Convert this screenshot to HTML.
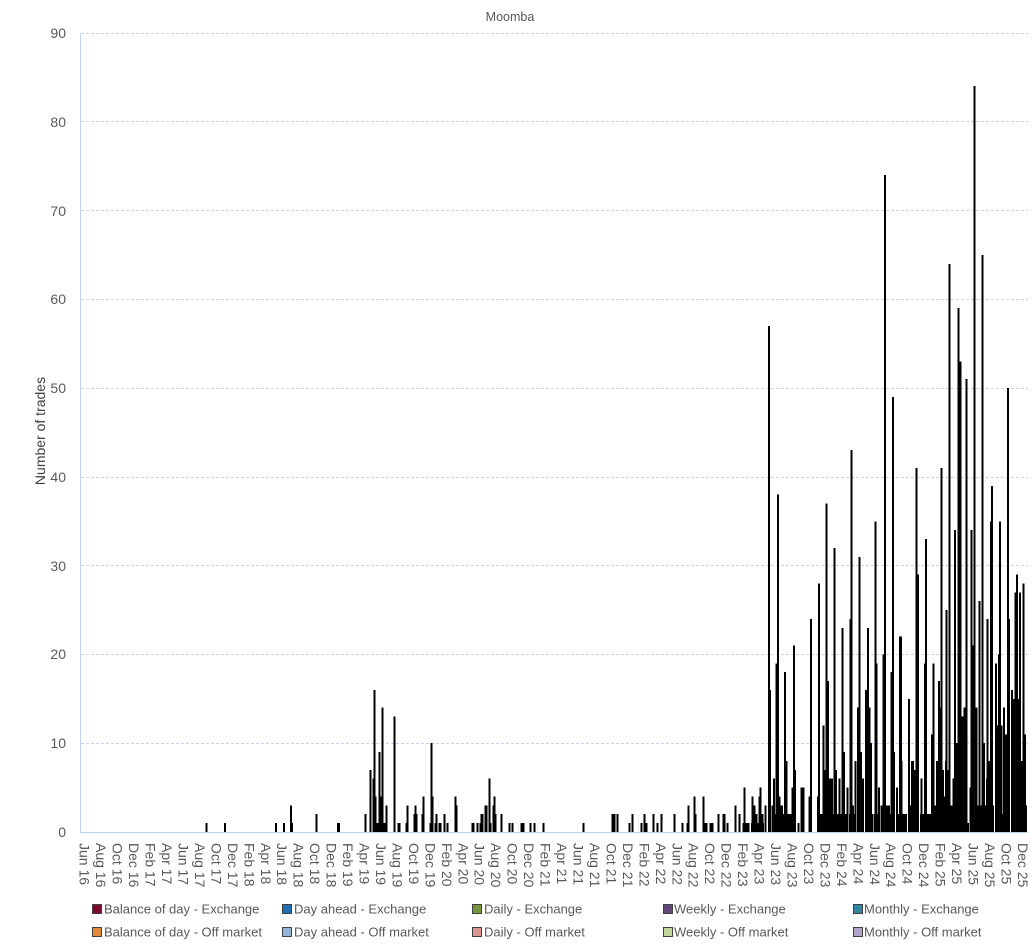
<!DOCTYPE html>
<html>
<head>
<meta charset="utf-8">
<style>
html,body{margin:0;padding:0;background:#fff;}
svg{display:block;font-family:"Liberation Sans",Arial,sans-serif;}
</style>
</head>
<body>
<svg width="1034" height="944" viewBox="0 0 1034 944" xmlns="http://www.w3.org/2000/svg">
<rect x="0" y="0" width="1034" height="944" fill="#fff"/>
<text x="510" y="21" font-size="12.5" fill="#595959" text-anchor="middle">Moomba</text>

<!-- gridlines -->
<g stroke="#C5D6EC" stroke-width="1" stroke-dasharray="3 2">
<line x1="81" y1="743.5" x2="1028" y2="743.5"/>
<line x1="81" y1="654.5" x2="1028" y2="654.5"/>
<line x1="81" y1="565.5" x2="1028" y2="565.5"/>
<line x1="81" y1="477.5" x2="1028" y2="477.5"/>
<line x1="81" y1="388.5" x2="1028" y2="388.5"/>
<line x1="81" y1="299.5" x2="1028" y2="299.5"/>
<line x1="81" y1="210.5" x2="1028" y2="210.5"/>
<line x1="81" y1="121.5" x2="1028" y2="121.5"/>
<line x1="81" y1="33.5" x2="1028" y2="33.5"/>
</g>
<line x1="80.5" y1="33" x2="80.5" y2="832" stroke="#BCD2EE" stroke-width="1"/>

<!-- y labels -->
<g font-size="14" fill="#595959" text-anchor="end">
<text x="66" y="837">0</text>
<text x="66" y="748">10</text>
<text x="66" y="659">20</text>
<text x="66" y="571">30</text>
<text x="66" y="482">40</text>
<text x="66" y="393">50</text>
<text x="66" y="304">60</text>
<text x="66" y="216">70</text>
<text x="66" y="127">80</text>
<text x="66" y="38">90</text>
</g>
<text transform="translate(45,431) rotate(-90)" font-size="14" fill="#404040" text-anchor="middle">Number of trades</text>

<!-- bars -->
<g transform="matrix(1 0 0 -8.878 0 832)" fill="#000" shape-rendering="crispEdges">
<rect x="205.7" y="0" width="2" height="1"/><rect x="224" y="0" width="2" height="1"/><rect x="275" y="0" width="2" height="1"/><rect x="283" y="0" width="2" height="1"/><rect x="290" y="0" width="2" height="3"/><rect x="292" y="0" width="1" height="1"/><rect x="315.7" y="0" width="2" height="2"/><rect x="337" y="0" width="3" height="1"/>
<rect x="364.3" y="0" width="2" height="2"/><rect x="369.3" y="0" width="2" height="7"/><rect x="372.3" y="0" width="2" height="6"/><rect x="373.3" y="0" width="2" height="16"/><rect x="374.3" y="0" width="2" height="4"/><rect x="376.3" y="0" width="2" height="1"/><rect x="378.3" y="0" width="2" height="9"/><rect x="379.3" y="0" width="2" height="4"/><rect x="381.3" y="0" width="2" height="14"/><rect x="382.3" y="0" width="3" height="1"/><rect x="385.3" y="0" width="2" height="3"/><rect x="393.7" y="0" width="2" height="13"/><rect x="397.7" y="0" width="3" height="1"/><rect x="405.7" y="0" width="2" height="1"/><rect x="406.7" y="0" width="2" height="3"/><rect x="413.7" y="0" width="2" height="2"/><rect x="414.7" y="0" width="2" height="3"/><rect x="415.7" y="0" width="2" height="2"/><rect x="421.7" y="0" width="2" height="2"/><rect x="422.7" y="0" width="2" height="4"/><rect x="429.7" y="0" width="2" height="1"/><rect x="430.7" y="0" width="2" height="10"/><rect x="431.7" y="0" width="2" height="4"/><rect x="434.7" y="0" width="2" height="1"/><rect x="435.7" y="0" width="2" height="2"/><rect x="438.7" y="0" width="3" height="1"/><rect x="443.7" y="0" width="2" height="2"/><rect x="446.7" y="0" width="2" height="1"/><rect x="454.7" y="0" width="2" height="4"/><rect x="455.7" y="0" width="2" height="3"/><rect x="471.7" y="0" width="3" height="1"/><rect x="476.7" y="0" width="2" height="1"/><rect x="479.7" y="0" width="2" height="1"/><rect x="480.7" y="0" width="2" height="2"/><rect x="481.7" y="0" width="2" height="2"/><rect x="484.7" y="0" width="2" height="3"/><rect x="485.7" y="0" width="2" height="3"/><rect x="488.7" y="0" width="2" height="6"/><rect x="489.7" y="0" width="2" height="1"/><rect x="492.7" y="0" width="2" height="3"/><rect x="493.7" y="0" width="2" height="4"/><rect x="494.7" y="0" width="2" height="2"/><rect x="500.7" y="0" width="2" height="2"/><rect x="508.7" y="0" width="2" height="1"/><rect x="511.7" y="0" width="2" height="1"/><rect x="520.7" y="0" width="4" height="1"/><rect x="529.7" y="0" width="2" height="1"/><rect x="533.7" y="0" width="2" height="1"/><rect x="542.7" y="0" width="2" height="1"/>
<rect x="582.7" y="0" width="2" height="1"/><rect x="611.7" y="0" width="4" height="2"/><rect x="616.7" y="0" width="2" height="2"/><rect x="628.7" y="0" width="2" height="1"/><rect x="631.7" y="0" width="2" height="2"/><rect x="640.7" y="0" width="2" height="1"/><rect x="643.7" y="0" width="2" height="2"/><rect x="645.7" y="0" width="2" height="1"/><rect x="652.7" y="0" width="2" height="2"/><rect x="656.7" y="0" width="2" height="1"/><rect x="660.7" y="0" width="2" height="2"/><rect x="673.7" y="0" width="2" height="2"/><rect x="681.7" y="0" width="2" height="1"/><rect x="686.7" y="0" width="2" height="1"/><rect x="687.7" y="0" width="2" height="3"/><rect x="693.7" y="0" width="2" height="4"/><rect x="694.7" y="0" width="2" height="2"/><rect x="702.7" y="0" width="2" height="4"/><rect x="703.7" y="0" width="2" height="1"/><rect x="705.7" y="0" width="2" height="1"/><rect x="709.7" y="0" width="2" height="1"/><rect x="711.7" y="0" width="2" height="1"/><rect x="717.7" y="0" width="2" height="2"/><rect x="722.7" y="0" width="3" height="2"/><rect x="726.7" y="0" width="2" height="1"/><rect x="734.7" y="0" width="2" height="3"/><rect x="738.7" y="0" width="2" height="2"/>
<rect x="742.5" y="0" width="7" height="1"/><rect x="743.7" y="0" width="2" height="5"/><rect x="751" y="0" width="13" height="1"/><rect x="751.7" y="0" width="2" height="4"/><rect x="753.7" y="0" width="2" height="3"/><rect x="755.7" y="0" width="2" height="2"/><rect x="758.5" y="0" width="2" height="4"/><rect x="759.7" y="0" width="2" height="5"/><rect x="761.7" y="0" width="2" height="2"/><rect x="764.7" y="0" width="2" height="3"/><rect x="767.8" y="0" width="2" height="57"/><rect x="769.2" y="0" width="2" height="16"/><rect x="771.7" y="0" width="2" height="3"/><rect x="773" y="0" width="2" height="6"/><rect x="772" y="0" width="11" height="2"/><rect x="775.7" y="0" width="2" height="19"/><rect x="776.8" y="0" width="2" height="38"/><rect x="778.3" y="0" width="2" height="4"/><rect x="779" y="0" width="4" height="3"/><rect x="783" y="0" width="9" height="2"/><rect x="783.8" y="0" width="2" height="18"/><rect x="785.5" y="0" width="2" height="8"/><rect x="791.7" y="0" width="2" height="5"/><rect x="792.8" y="0" width="2" height="21"/><rect x="793.8" y="0" width="2" height="7"/><rect x="797.7" y="0" width="2" height="1"/><rect x="800.3" y="0" width="4" height="5"/><rect x="808.7" y="0" width="2" height="4"/><rect x="809.8" y="0" width="2" height="24"/><rect x="816.8" y="0" width="2" height="4"/><rect x="817.8" y="0" width="2" height="28"/><rect x="819" y="0" width="4" height="2"/><rect x="822.5" y="0" width="2" height="12"/><rect x="823.5" y="0" width="2" height="7"/><rect x="825.5" y="0" width="2" height="37"/><rect x="827.2" y="0" width="2" height="17"/><rect x="828.7" y="0" width="4.5" height="6"/><rect x="833.5" y="0" width="2" height="32"/><rect x="834.8" y="0" width="2" height="7"/><rect x="836.7" y="0" width="2" height="2"/><rect x="838.5" y="0" width="2" height="6"/><rect x="841.5" y="0" width="2" height="23"/><rect x="843.2" y="0" width="2" height="9"/><rect x="844.8" y="0" width="2" height="1"/><rect x="846.5" y="0" width="2" height="5"/><rect x="849.5" y="0" width="2" height="24"/><rect x="850.5" y="0" width="2" height="43"/><rect x="852" y="0" width="2" height="3"/><rect x="854.5" y="0" width="2" height="8"/><rect x="857.2" y="0" width="2" height="14"/><rect x="858.5" y="0" width="2" height="31"/><rect x="859.8" y="0" width="2" height="9"/><rect x="862.2" y="0" width="2" height="6"/><rect x="865.2" y="0" width="2" height="16"/><rect x="866.8" y="0" width="2" height="23"/><rect x="868.3" y="0" width="2" height="14"/><rect x="869.8" y="0" width="2" height="10"/><rect x="871.7" y="0" width="2" height="2"/><rect x="874.7" y="0" width="2" height="35"/><rect x="875.5" y="0" width="2" height="19"/><rect x="878.2" y="0" width="2" height="5"/><rect x="882.5" y="0" width="2" height="20"/><rect x="883.8" y="0" width="2" height="74"/>
<rect x="817" y="0" width="8" height="2"/><rect x="826" y="0" width="6" height="2"/><rect x="833" y="0" width="6" height="2"/><rect x="840" y="0" width="8" height="2"/><rect x="849" y="0" width="7" height="2"/><rect x="857" y="0" width="7" height="2"/><rect x="865" y="0" width="8" height="2"/><rect x="874" y="0" width="6" height="2"/><rect x="880.5" y="0" width="3.5" height="3"/>
<rect x="884" y="0" width="6" height="3"/><rect x="890" y="0" width="1.3" height="2"/><rect x="891.3" y="0" width="3.7" height="9"/><rect x="896" y="0" width="2" height="5"/><rect x="898" y="0" width="5" height="2"/><rect x="903" y="0" width="4" height="2"/><rect x="908" y="0" width="4" height="3"/><rect x="912" y="0" width="2" height="8"/><rect x="914" y="0" width="2" height="7"/><rect x="916" y="0" width="3" height="1"/><rect x="920" y="0" width="4" height="2"/><rect x="924" y="0" width="10" height="2"/><rect x="934" y="0" width="2" height="3"/><rect x="936.5" y="0" width="14.2" height="4"/><rect x="950.7" y="0" width="10" height="3"/><rect x="961.5" y="0" width="7.5" height="1"/><rect x="970" y="0" width="24" height="3"/><rect x="995" y="0" width="15" height="2"/><rect x="1011" y="0" width="6" height="2"/><rect x="1018" y="0" width="9" height="3"/>
<rect x="890.7" y="0" width="2" height="18"/><rect x="891.8" y="0" width="2" height="49"/><rect x="893" y="0" width="2" height="9"/><rect x="899" y="0" width="3" height="22"/><rect x="900.5" y="0" width="2" height="8"/><rect x="907.8" y="0" width="2" height="15"/><rect x="911" y="0" width="2" height="8"/><rect x="912.5" y="0" width="2" height="7"/><rect x="915.5" y="0" width="2" height="41"/><rect x="916.8" y="0" width="2" height="29"/><rect x="920.5" y="0" width="2" height="6"/><rect x="923.8" y="0" width="2" height="19"/><rect x="924.8" y="0" width="2" height="33"/><rect x="931" y="0" width="2" height="11"/><rect x="932.5" y="0" width="2" height="19"/><rect x="936" y="0" width="2" height="8"/><rect x="938" y="0" width="2" height="17"/><rect x="939" y="0" width="2" height="14"/><rect x="940.5" y="0" width="2" height="41"/><rect x="942" y="0" width="2" height="7"/><rect x="945" y="0" width="2" height="8"/><rect x="945.7" y="0" width="2" height="25"/><rect x="947.5" y="0" width="2" height="7"/><rect x="948.7" y="0" width="2" height="64"/><rect x="952.5" y="0" width="2" height="6"/><rect x="954" y="0" width="2" height="34"/><rect x="955.7" y="0" width="2" height="10"/><rect x="957.7" y="0" width="2" height="59"/><rect x="959.7" y="0" width="2" height="53"/><rect x="961.7" y="0" width="2" height="13"/><rect x="963.7" y="0" width="2" height="14"/><rect x="965.5" y="0" width="2" height="51"/><rect x="969.5" y="0" width="2" height="5"/><rect x="970.5" y="0" width="2" height="34"/><rect x="971.8" y="0" width="2" height="21"/><rect x="973.7" y="0" width="2" height="84"/><rect x="975.5" y="0" width="2" height="14"/><rect x="978.7" y="0" width="2" height="26"/><rect x="981.5" y="0" width="2" height="65"/><rect x="983" y="0" width="2" height="10"/><rect x="986" y="0" width="2" height="6"/><rect x="986.7" y="0" width="2" height="24"/><rect x="988.5" y="0" width="2" height="8"/><rect x="989.8" y="0" width="2" height="35"/><rect x="990.8" y="0" width="2" height="39"/><rect x="994.8" y="0" width="2" height="19"/><rect x="996.5" y="0" width="2" height="12"/><rect x="997.8" y="0" width="2" height="20"/><rect x="998.8" y="0" width="2" height="35"/><rect x="1000.5" y="0" width="2" height="12"/><rect x="1003" y="0" width="2" height="14"/><rect x="1005" y="0" width="2" height="11"/><rect x="1006.8" y="0" width="2" height="50"/><rect x="1008" y="0" width="2" height="24"/><rect x="1010.8" y="0" width="2" height="16"/><rect x="1012.5" y="0" width="2" height="15"/><rect x="1014.5" y="0" width="2" height="27"/><rect x="1016" y="0" width="2" height="29"/><rect x="1017.8" y="0" width="2" height="15"/><rect x="1019" y="0" width="2" height="27"/><rect x="1020.8" y="0" width="2" height="8"/><rect x="1022.5" y="0" width="2" height="28"/><rect x="1024.2" y="0" width="2" height="11"/>
</g>
<line x1="80" y1="832.5" x2="1028" y2="832.5" stroke="#BCD2EE" stroke-width="1"/>

<!-- x labels -->
<g font-size="14" fill="#595959" dominant-baseline="central">
<text transform="translate(84.7,843) rotate(90)">Jun 16</text>
<text transform="translate(101.2,843) rotate(90)">Aug 16</text>
<text transform="translate(117.6,843) rotate(90)">Oct 16</text>
<text transform="translate(134.1,843) rotate(90)">Dec 16</text>
<text transform="translate(150.5,843) rotate(90)">Feb 17</text>
<text transform="translate(167.0,843) rotate(90)">Apr 17</text>
<text transform="translate(183.5,843) rotate(90)">Jun 17</text>
<text transform="translate(199.9,843) rotate(90)">Aug 17</text>
<text transform="translate(216.4,843) rotate(90)">Oct 17</text>
<text transform="translate(232.8,843) rotate(90)">Dec 17</text>
<text transform="translate(249.3,843) rotate(90)">Feb 18</text>
<text transform="translate(265.8,843) rotate(90)">Apr 18</text>
<text transform="translate(282.2,843) rotate(90)">Jun 18</text>
<text transform="translate(298.7,843) rotate(90)">Aug 18</text>
<text transform="translate(315.1,843) rotate(90)">Oct 18</text>
<text transform="translate(331.6,843) rotate(90)">Dec 18</text>
<text transform="translate(348.1,843) rotate(90)">Feb 19</text>
<text transform="translate(364.5,843) rotate(90)">Apr 19</text>
<text transform="translate(381.0,843) rotate(90)">Jun 19</text>
<text transform="translate(397.4,843) rotate(90)">Aug 19</text>
<text transform="translate(413.9,843) rotate(90)">Oct 19</text>
<text transform="translate(430.4,843) rotate(90)">Dec 19</text>
<text transform="translate(446.8,843) rotate(90)">Feb 20</text>
<text transform="translate(463.3,843) rotate(90)">Apr 20</text>
<text transform="translate(479.7,843) rotate(90)">Jun 20</text>
<text transform="translate(496.2,843) rotate(90)">Aug 20</text>
<text transform="translate(512.7,843) rotate(90)">Oct 20</text>
<text transform="translate(529.1,843) rotate(90)">Dec 20</text>
<text transform="translate(545.6,843) rotate(90)">Feb 21</text>
<text transform="translate(562.0,843) rotate(90)">Apr 21</text>
<text transform="translate(578.5,843) rotate(90)">Jun 21</text>
<text transform="translate(595.0,843) rotate(90)">Aug 21</text>
<text transform="translate(611.4,843) rotate(90)">Oct 21</text>
<text transform="translate(627.9,843) rotate(90)">Dec 21</text>
<text transform="translate(644.3,843) rotate(90)">Feb 22</text>
<text transform="translate(660.8,843) rotate(90)">Apr 22</text>
<text transform="translate(677.3,843) rotate(90)">Jun 22</text>
<text transform="translate(693.7,843) rotate(90)">Aug 22</text>
<text transform="translate(710.2,843) rotate(90)">Oct 22</text>
<text transform="translate(726.6,843) rotate(90)">Dec 22</text>
<text transform="translate(743.1,843) rotate(90)">Feb 23</text>
<text transform="translate(759.6,843) rotate(90)">Apr 23</text>
<text transform="translate(776.0,843) rotate(90)">Jun 23</text>
<text transform="translate(792.5,843) rotate(90)">Aug 23</text>
<text transform="translate(808.9,843) rotate(90)">Oct 23</text>
<text transform="translate(825.4,843) rotate(90)">Dec 23</text>
<text transform="translate(841.9,843) rotate(90)">Feb 24</text>
<text transform="translate(858.3,843) rotate(90)">Apr 24</text>
<text transform="translate(874.8,843) rotate(90)">Jun 24</text>
<text transform="translate(891.2,843) rotate(90)">Aug 24</text>
<text transform="translate(907.7,843) rotate(90)">Oct 24</text>
<text transform="translate(924.2,843) rotate(90)">Dec 24</text>
<text transform="translate(940.6,843) rotate(90)">Feb 25</text>
<text transform="translate(957.1,843) rotate(90)">Apr 25</text>
<text transform="translate(973.5,843) rotate(90)">Jun 25</text>
<text transform="translate(990.0,843) rotate(90)">Aug 25</text>
<text transform="translate(1006.5,843) rotate(90)">Oct 25</text>
<text transform="translate(1022.9,843) rotate(90)">Dec 25</text>
</g>

<!-- legend -->
<g stroke="#404040" stroke-width="1">
<rect x="92.5" y="904.5" width="9" height="9" fill="#7B0A2A"/>
<rect x="282.5" y="904.5" width="9" height="9" fill="#1F6FB5"/>
<rect x="472.5" y="904.5" width="9" height="9" fill="#77933C"/>
<rect x="663.5" y="904.5" width="9" height="9" fill="#60497A"/>
<rect x="853.5" y="904.5" width="9" height="9" fill="#31859C"/>
<rect x="92.5" y="927.5" width="9" height="9" fill="#E4893C"/>
<rect x="282.5" y="927.5" width="9" height="9" fill="#95B3D7"/>
<rect x="472.5" y="927.5" width="9" height="9" fill="#D99694"/>
<rect x="663.5" y="927.5" width="9" height="9" fill="#C3D69B"/>
<rect x="853.5" y="927.5" width="9" height="9" fill="#B3A2C7"/>
</g>
<g font-size="13" fill="#595959">
<text x="104" y="913.5">Balance of day - Exchange</text>
<text x="294" y="913.5">Day ahead - Exchange</text>
<text x="484" y="913.5">Daily - Exchange</text>
<text x="674" y="913.5">Weekly - Exchange</text>
<text x="864" y="913.5">Monthly - Exchange</text>
<text x="104" y="936.5">Balance of day - Off market</text>
<text x="294" y="936.5">Day ahead - Off market</text>
<text x="484" y="936.5">Daily - Off market</text>
<text x="674" y="936.5">Weekly - Off market</text>
<text x="864" y="936.5">Monthly - Off market</text>
</g>
</svg>
</body>
</html>
